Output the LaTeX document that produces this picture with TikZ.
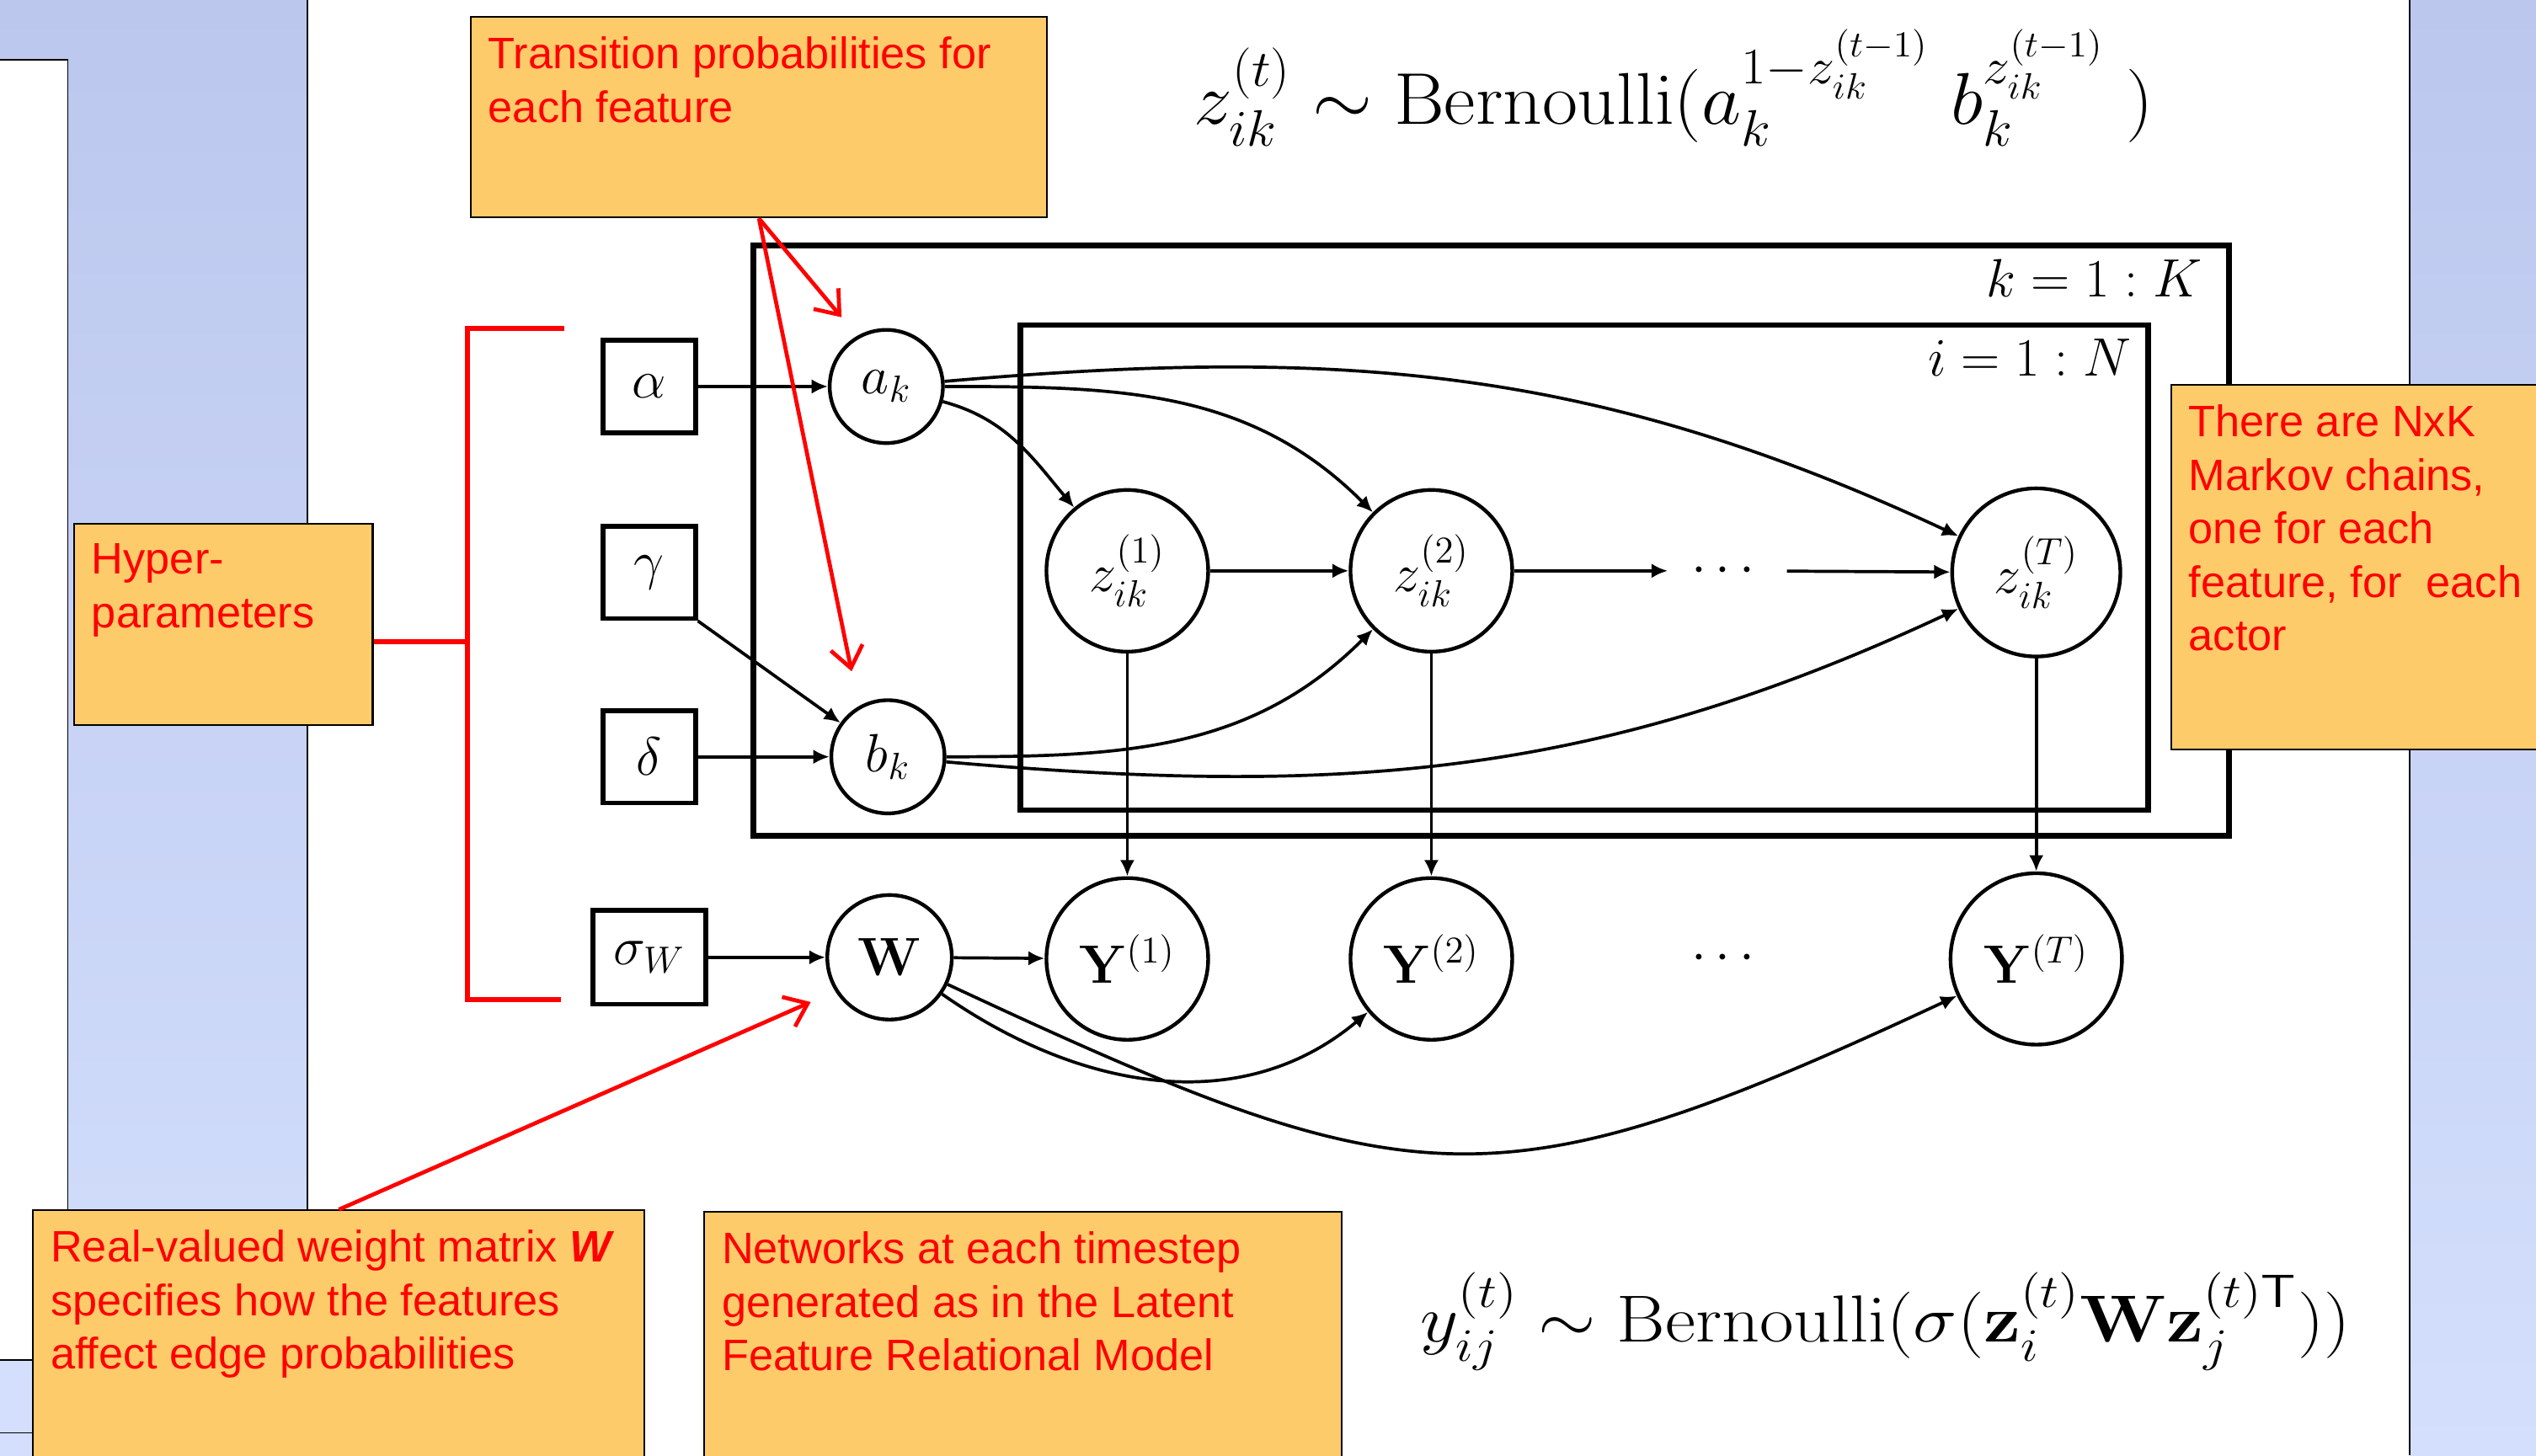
\RequirePackage{fix-cm}
\documentclass[tikz,border=0pt]{standalone}
\usepackage[no-math]{fontspec}
\usepackage{amsmath}
\usepackage{graphicx}
\usepackage{xcolor}
\usetikzlibrary{arrows.meta}
\newfontfamily\notefont{Liberation Sans}
\definecolor{noteorange}{RGB}{253,203,106}
\definecolor{notered}{RGB}{255,0,0}
\definecolor{slidetop}{RGB}{188,199,238}
\definecolor{slidebot}{RGB}{211,223,252}

\tikzset{
  latent/.style={draw, circle, line width=1.3pt, inner sep=0pt, font=\fontsize{19}{23}\selectfont},
  hyperbox/.style={draw, rectangle, line width=1.7pt, minimum size=11.4mm, inner sep=0pt, font=\fontsize{19}{23}\selectfont},
  platelabel/.style={anchor=center, font=\fontsize{19}{23}\selectfont},
  plate/.style={draw, line width=2pt},
  edge/.style={-{Latex[length=2mm,width=1.8mm]}, line width=1.1pt},
  note/.style={draw, line width=0.6pt, fill=noteorange, anchor=north west, inner sep=0pt},
  notetext/.style={anchor=north west, align=left, text=notered, inner xsep=2.2mm, inner ysep=2.5mm, font=\notefont\fontsize{15.5}{18.8}\selectfont},
  redline/.style={draw=notered, line width=1.7pt},
  redarrow/.style={notered, line width=1.4pt, -{Straight Barb[length=2.6mm,width=4mm]}}
}

\begin{document}
\begin{tikzpicture}[x=0.2mm, y=0.2mm]
        \useasboundingbox (0,0) rectangle (1568,900);

        % Slide background
        \shade[top color=slidetop, bottom color=slidebot] (0,0) rectangle (190,900);
        \shade[top color=slidetop, bottom color=slidebot] (1490,0) rectangle (1568,900);
        \draw[line width=0.5pt] (190,0) -- (190,900);
        \draw[line width=0.5pt] (1490,0) -- (1490,900);
        \draw[line width=0.5pt, fill=white] (-2,59) rectangle (42,863);
        \draw[line width=0.5pt, fill=slidebot] (-2,14) rectangle (42,59);

        % Equations
        \node[anchor=base west, inner sep=0pt, font=\fontsize{25.8}{30}\selectfont] (zeq) at (738,823)
            {\scalebox{1.05}[1]{$z_{ik}^{(t)} \sim \mathrm{Bernoulli}(a_k^{1-z_{ik}^{(t-1)}}\; b_k^{z_{ik}^{(t-1)}}\;)$}};
        \node[anchor=base west, inner sep=0pt, font=\fontsize{23.4}{28}\selectfont] (yeq) at (878,70)
            {\scalebox{1.115}[1]{$y_{ij}^{(t)} \sim \mathrm{Bernoulli}(\sigma(\mathbf{z}_i^{(t)}\mathbf{W}\mathbf{z}_j^{(t)\mathsf{T}}))$}};

        % Plates
        \draw[plate] (466,748) rectangle (1378,383);
        \draw[plate] (631,699) rectangle (1328,399);
        \node[platelabel] (kplate) at (1295,728) {$k = 1 : K$};
        \node[platelabel] (iplate) at (1255,679) {$i = 1 : N$};

        % Hyperparameters
        \node[hyperbox] (alpha) at (401.5,661) {$\alpha$};
        \node[hyperbox] (gamma) at (401.5,546) {$\gamma$};
        \node[hyperbox] (delta) at (401.5,432) {$\delta$};
        \node[hyperbox, minimum width=14mm, minimum height=11.6mm] (sigmaW) at (401.5,308) {$\sigma_W$};

        % Transition probabilities
        \node[latent, minimum size=14mm] (ak) at (548,661) {$a_k$};
        \node[latent, minimum size=14mm] (bk) at (549,432) {$b_k$};
        \node[latent, minimum size=15.4mm] (W) at (550,308) {$\mathbf{W}$};

        % Markov chain
        \node[latent, minimum size=20mm] (z1) at (697,547) {$z_{ik}^{(1)}$};
        \node[latent, minimum size=20mm] (z2) at (885,547) {$z_{ik}^{(2)}$};
        \node[inner sep=0pt, minimum width=14.6mm, font=\fontsize{19}{23}\selectfont] (zdots) at (1068,547) {$\cdots$};
        \node[latent, minimum size=20.8mm] (zT) at (1259,546) {$z_{ik}^{(T)}$};

        % Networks
        \node[latent, minimum size=20mm] (Y1) at (697,307) {$\mathbf{Y}^{(1)}$};
        \node[latent, minimum size=20mm] (Y2) at (885,307) {$\mathbf{Y}^{(2)}$};
        \node[inner sep=0pt, font=\fontsize{19}{23}\selectfont] (Ydots) at (1068,307) {$\cdots$};
        \node[latent, minimum size=21.2mm] (YT) at (1259,307) {$\mathbf{Y}^{(T)}$};

        % Relationships
        \draw[edge] (alpha) -- (ak);
        \draw[edge] (gamma.south east) -- (bk);
        \draw[edge] (delta) -- (bk);
        \draw[edge] (sigmaW) -- (W);
        \draw[edge] (ak) to[out=-15, in=130] (z1);
        \draw[edge] (ak) to[out=0, in=135] (z2);
        \draw[edge] (ak) to[out=5, in=155] (zT);
        \draw[edge] (bk) to[out=0, in=-135] (z2);
        \draw[edge] (bk) to[out=-5, in=-155] (zT);
        \draw[edge] (z1) -- (z2);
        \draw[edge] (z2) -- (zdots);
        \draw[edge] (zdots) -- (zT);
        \foreach \t in {1,2,T}
            \draw[edge] (z\t) -- (Y\t);
        \draw[edge] (W) -- (Y1);
        \draw[edge] (W) to[out=-35, in=-140] (Y2);
        \draw[edge] (W) to[out=-25, in=-155, looseness=1.3] (YT);

        % Notes
        \node[note, minimum width=71.24mm, minimum height=24.8mm,
            label={[notetext]north west:{Transition probabilities for\\each feature}}] (trans) at (290.6,890) {};
        \node[note, minimum width=36.9mm, minimum height=24.9mm,
            label={[notetext]north west:{Hyper-\\parameters}}] (hyper) at (45.4,576.5) {};
        \node[note, minimum width=48mm, minimum height=45.1mm,
            label={[notetext]north west:{There are NxK\\Markov chains,\\one for each\\feature, for\ \ each\\actor}}] (markov) at (1342,662.4) {};
        \node[note, minimum width=75.6mm, minimum height=32.4mm,
            label={[notetext]north west:{Real-valued weight matrix \textbf{\textit{W}}\\specifies how the features\\affect edge probabilities}}] (real) at (20,152) {};
        \node[note, minimum width=78.8mm, minimum height=32.2mm,
            label={[notetext]north west:{Networks at each timestep\\generated as in the Latent\\Feature Relational Model}}] (net) at (435,151) {};

        % Annotation arrows
        \draw[redline] (349,697) -- (289,697) -- (289,282) -- (347,282);
        \draw[redline] (hyper.east |- 0,503) -- (289,503);
        \draw[redarrow, shorten >=3mm] (trans.south) -- (ak.120);
        \draw[redarrow, shorten >=4.4mm] (trans.south) -- (bk.120);
        \draw[redarrow, shorten >=3.3mm] (real.north) -- (W.212);
    \end{tikzpicture}
\end{document}
